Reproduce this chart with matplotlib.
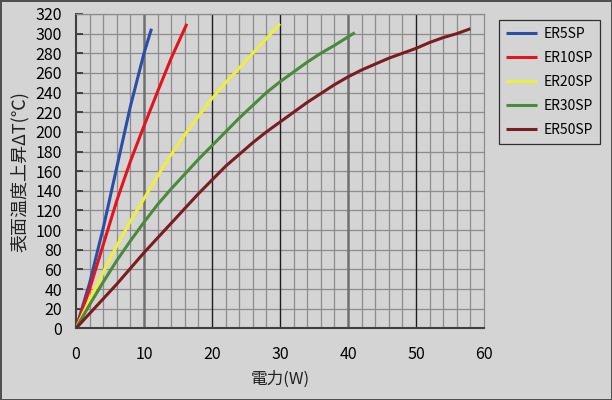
import numpy as np
import matplotlib
matplotlib.use('Agg')
import matplotlib.pyplot as plt

plt.rcParams['font.family'] = ['Noto Sans CJK JP', 'DejaVu Sans']

#--data
names = ['ER5SP', 'ER10SP', 'ER20SP', 'ER30SP', 'ER50SP']

w_5  = [0, 2, 4, 6, 8, 10, 11.1]
t_5  = [0, 46, 102, 164, 226, 280, 305]

w_10 = [0, 2, 4, 6, 8, 10, 12, 14, 16.3]
t_10 = [0, 40, 85, 130, 170, 206, 241, 275, 310]

w_20 = [0, 2, 4, 6, 8, 10, 12, 14, 16, 18, 20, 22, 24, 26, 28, 30]
t_20 = [0, 29, 57, 84, 109, 132, 155, 177, 197, 216, 234, 250, 265, 280, 295, 310]

w_30 = [0, 2, 4, 6, 8, 10, 12, 14, 16, 18, 20, 22, 24, 26, 28, 30, 32, 34, 36, 38, 41]
t_30 = [0, 24, 47, 69, 89, 108, 126, 142, 157, 172, 186, 200, 214, 227, 240, 251, 261, 271, 280, 288, 301]

w_50 = [0, 2, 4, 6, 8, 10, 12, 14, 16, 18, 20, 22, 24, 26, 28, 30, 32, 34, 36, 38, 40,
        42, 44, 46, 48, 50, 52, 54, 56, 58]
t_50 = [0, 15, 30, 45, 61, 77, 92, 107, 122, 137, 151, 165, 177, 189, 200, 210, 220, 230, 239, 248, 256,
        263, 269, 275, 280, 285, 291, 296, 300, 305]

xticks = [0, 10, 20, 30, 40, 50, 60]
yticks = list(range(0, 321, 20))

series = [(w_5, t_5), (w_10, t_10), (w_20, t_20), (w_30, t_30), (w_50, t_50)]
colors = ['#2b4ea6', '#e3141e', '#eeee40', '#4a8a3c', '#7b1c20']

bg = '#d4d4d4'
fig = plt.figure(figsize=(6.12, 4.00), dpi=100)
fig.patch.set_facecolor(bg)
fig.patch.set_edgecolor('#505050')
fig.patch.set_linewidth(2.0)
ax = fig.add_axes([76/612, 1-328.3/400, 408/612, 314.3/400])
ax.set_facecolor(bg)

#--grid
for x in np.arange(2, 60, 2):
    if x % 10 == 0: continue
    ax.axvline(x, color='#8c8c8c', lw=0.9, zorder=1)
for y in yticks[1:]:
    ax.axhline(y, color='#8c8c8c', lw=0.9, zorder=1)
for x in [10, 40]:
    ax.axvline(x, color='#707070', lw=1.8, zorder=1)
for x in [20, 30, 50]:
    ax.axvline(x, color='#1e1e1e', lw=1.0, zorder=1)

for (w, t), c, n in zip(series, colors, names):
    ax.plot(w, t, color=c, lw=2.2, label=n, zorder=3, solid_capstyle='butt')

ax.set_xlim(0, 60)
ax.set_ylim(0, 320)
ax.set_xticks(xticks)
ax.set_yticks(yticks)
ax.tick_params(axis='y', direction='in', length=5, width=1.2, color='#303030', pad=10, labelsize=11.5)
ax.tick_params(axis='x', length=0, pad=13, labelsize=11.5)
for s in ['left', 'bottom']:
    ax.spines[s].set_color('#404040')
    ax.spines[s].set_linewidth(1.5)
for s in ['right', 'top']:
    ax.spines[s].set_color('#8c8c8c')
    ax.spines[s].set_linewidth(0.9)

ax.set_xlabel('電力(W)', fontsize=12, labelpad=5, color='#222222')
ax.set_ylabel('表面温度上昇ΔT(℃)', fontsize=13, labelpad=5, color='#222222')

leg = ax.legend(loc='upper left', bbox_to_anchor=(499/612, 1-20/400), bbox_transform=fig.transFigure,
                borderaxespad=0, fontsize=10, handlelength=2.2, handletextpad=0.5,
                labelspacing=0.72, borderpad=0.5, fancybox=False, framealpha=1)
leg.get_frame().set_facecolor(bg)
leg.get_frame().set_edgecolor('#303030')
leg.get_frame().set_linewidth(0.9)

fig.savefig('out.png', dpi=100, facecolor=fig.get_facecolor(), edgecolor=fig.get_edgecolor())
